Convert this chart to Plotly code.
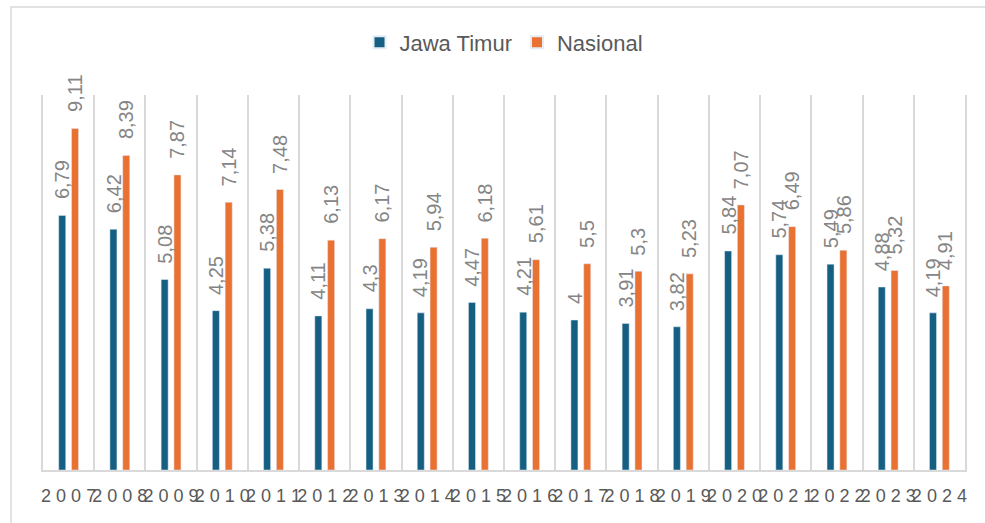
import plotly.graph_objects as go

years = [str(y) for y in range(2007, 2025)]
jawa_timur = [6.79, 6.42, 5.08, 4.25, 5.38, 4.11, 4.3, 4.19, 4.47, 4.21, 4, 3.91, 3.82, 5.84, 5.74, 5.49, 4.88, 4.19]
nasional = [9.11, 8.39, 7.87, 7.14, 7.48, 6.13, 6.17, 5.94, 6.18, 5.61, 5.5, 5.3, 5.23, 7.07, 6.49, 5.86, 5.32, 4.91]
tick_text = [" ".join(y) for y in years]

C_BLUE = "#156082"
C_ORANGE = "#E97132"
FONT = "Liberation Sans"

W, H = 985, 523
ML, MR, MT, MB = 43, 20, 95, 53
PW = W - ML - MR
PH = H - MT - MB
BARGAP = 0.5
BARGROUPGAP = 0.45

def fmt(v):
    return f"{v:g}".replace(".", ",")

fig = go.Figure()
fig.add_trace(go.Bar(name="Jawa Timur", x=years, y=jawa_timur, marker_color=C_BLUE))
fig.add_trace(go.Bar(name="Nasional", x=years, y=nasional, marker_color=C_ORANGE))

cat_px = PW / len(years)
slot_px = cat_px * (1 - BARGAP) / 2
annotations = []
for series, sign in ((jawa_timur, -1), (nasional, 1)):
    for i, v in enumerate(series):
        annotations.append(dict(
            x=i, y=v, xref="x", yref="y", text=fmt(v), showarrow=False,
            textangle=-90, xanchor="center", yanchor="bottom",
            xshift=sign * slot_px / 2, yshift=14,
            font=dict(family=FONT, size=20, color="#858585"),
        ))

fig.update_layout(
    width=W, height=H,
    margin=dict(l=ML, r=MR, t=MT, b=MB, autoexpand=False),
    paper_bgcolor="white", plot_bgcolor="white",
    barmode="group", bargap=BARGAP, bargroupgap=BARGROUPGAP,
    showlegend=True,
    legend=dict(orientation="h", x=0.5, xanchor="center", y=1.14, yanchor="middle",
                bgcolor="rgba(0,0,0,0)",
                font=dict(family=FONT, size=22, color="#595959"),
                itemsizing="constant"),
    annotations=annotations,
    shapes=[dict(type="rect", xref="paper", yref="paper",
                 x0=(11 - ML) / PW, x1=(995 - ML) / PW,
                 y0=-(H + 10 - MT - PH) / PH, y1=(H - MB - 7) / PH,
                 line=dict(color="#d9d9d9", width=1.5), fillcolor="rgba(0,0,0,0)", layer="below")],
    xaxis=dict(type="category", tickmode="array", tickvals=years, ticktext=tick_text,
               tickson="boundaries", showgrid=True, gridcolor="#d9d9d9", gridwidth=2,
               ticks="", showline=True, linecolor="#d9d9d9", linewidth=2,
               tickangle=0, automargin=False,
               tickfont=dict(family=FONT, size=18, color="#595959"),
               ticklabelstandoff=8, range=[-0.5, len(years) - 0.5]),
    yaxis=dict(range=[0, 10], showgrid=False, zeroline=False, showticklabels=False,
               ticks="", showline=True, mirror=True, linecolor="#d9d9d9", linewidth=2,
               automargin=False),
)

fig.write_html("out.html", config={"displayModeBar": False},
               post_script="document.body.style.margin='0px';")
